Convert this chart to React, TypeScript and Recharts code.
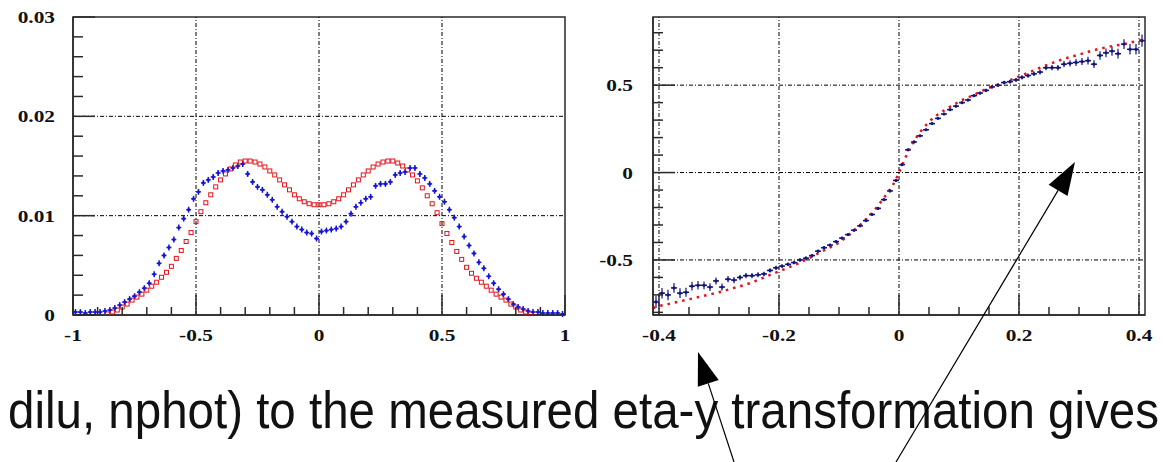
import React from 'react';
import {
  ComposedChart,
  Scatter,
  Line,
  XAxis,
  YAxis,
  ErrorBar,
  ReferenceLine,
  ReferenceArea,
} from 'recharts';

// ---- left panel: eta distribution (100 bins over [-1, 1]) ----
const ETA_BIN_LO = -1;
const ETA_BIN_WIDTH = 0.02;
const etaMeasured = [
  0.0003, 0.0003, 0.0002, 0.0003, 0.0003, 0.0003, 0.0004, 0.0005, 0.0007, 0.001,
  0.0013, 0.0016, 0.0019, 0.0023, 0.0027, 0.0032, 0.0041, 0.0052, 0.006, 0.0068,
  0.0076, 0.0088, 0.0097, 0.0106, 0.0117, 0.0124, 0.0133, 0.0136, 0.0139, 0.0143,
  0.0145, 0.0146, 0.0148, 0.015, 0.0152, 0.0142, 0.0134, 0.0129, 0.0126, 0.0121,
  0.0116, 0.0109, 0.0104, 0.0099, 0.0094, 0.0089, 0.0086, 0.0083, 0.0082, 0.0077,
  0.0084, 0.0085, 0.0086, 0.0087, 0.0089, 0.0094, 0.0102, 0.0109, 0.0113, 0.0117,
  0.0119, 0.013, 0.0132, 0.0132, 0.0134, 0.0141, 0.0143, 0.0144, 0.0148, 0.0148,
  0.0142, 0.0138, 0.0132, 0.0125, 0.0119, 0.0114, 0.0106, 0.0098, 0.0089, 0.0079,
  0.007, 0.0062, 0.0053, 0.0047, 0.0039, 0.0032, 0.0026, 0.0021, 0.0016, 0.0011,
  0.0008, 0.0006, 0.0004, 0.0003, 0.0003, 0.0002, 0.0002, 0.0002, 0.0002, 0.0001,
];
const ETA_MEASURED_ERR_Y = 0.0003;

// fitted model, sampled every 0.02 from -0.86 to 0.86
const ETA_FIT_LO = -0.86;
const ETA_FIT_STEP = 0.02;
const etaFit = [
  0.0001, 0.0003, 0.0005, 0.0008, 0.0011, 0.0015, 0.0018, 0.0021, 0.0025, 0.0029,
  0.0033, 0.0038, 0.0043, 0.0049, 0.0057, 0.0065, 0.0074, 0.0083, 0.0094, 0.0104,
  0.0113, 0.0121, 0.0129, 0.0136, 0.0142, 0.0147, 0.0151, 0.0154, 0.0155, 0.0155,
  0.0154, 0.0152, 0.0149, 0.0145, 0.0141, 0.0136, 0.0131, 0.0126, 0.0121, 0.0117,
  0.0114, 0.0112, 0.0111,
  0.0111,
  0.0111, 0.0112, 0.0114, 0.0117, 0.0121, 0.0126, 0.0131, 0.0136, 0.0141, 0.0145,
  0.0149, 0.0152, 0.0154, 0.0155, 0.0155, 0.0153, 0.015, 0.0146, 0.0141, 0.0135,
  0.0128, 0.012, 0.0112, 0.0103, 0.0092, 0.0082, 0.0073, 0.0064, 0.0056, 0.0048,
  0.0042, 0.0037, 0.0033, 0.0029, 0.0025, 0.0021, 0.0018, 0.0015, 0.0011, 0.0008,
  0.0005, 0.0003, 0.0001,
];

const leftXTicks = [-1, -0.9, -0.8, -0.7, -0.6, -0.5, -0.4, -0.3, -0.2, -0.1, 0, 0.1, 0.2, 0.3, 0.4, 0.5, 0.6, 0.7, 0.8, 0.9, 1];
const leftXLabels = ['-1', '-0.5', '0', '0.5', '1'];
const leftYTicks = [0, 0.002, 0.004, 0.006, 0.008, 0.01, 0.012, 0.014, 0.016, 0.018, 0.02, 0.022, 0.024, 0.026, 0.028, 0.03];
const leftYLabels = ['0', '0.01', '0.02', '0.03'];
const leftGridX = [-0.5, 0, 0.5];
const leftGridY = [0.01, 0.02];

// ---- right panel: eta -> y transformation (82 bins over [-0.41, 0.41]) ----
const TRANSFORM_BIN_LO = -0.41;
const TRANSFORM_BIN_WIDTH = 0.01;
const transformMeasured = [
  -0.74, -0.69, -0.7, -0.66, -0.69, -0.685, -0.65, -0.645, -0.645, -0.655,
  -0.62, -0.655, -0.61, -0.615, -0.6, -0.59, -0.59, -0.585, -0.58, -0.56,
  -0.545, -0.535, -0.525, -0.515, -0.5, -0.49, -0.475, -0.45, -0.43, -0.415,
  -0.395, -0.375, -0.355, -0.33, -0.305, -0.275, -0.24, -0.205, -0.155, -0.105,
  -0.045,
  0.045, 0.13, 0.175, 0.21, 0.245, 0.28, 0.31, 0.335, 0.36, 0.38,
  0.4, 0.415, 0.44, 0.455, 0.47, 0.49, 0.5, 0.515, 0.52, 0.53,
  0.545, 0.555, 0.565, 0.575, 0.6, 0.6, 0.6, 0.62, 0.625, 0.63,
  0.635, 0.64, 0.62, 0.67, 0.685, 0.695, 0.68, 0.735, 0.705, 0.705,
  0.755,
];
const transformErrY = [
  0.035, 0.03, 0.03, 0.028, 0.028, 0.026, 0.025, 0.024, 0.022, 0.022, 0.02,
  0.02, 0.018, 0.018, 0.016, 0.015, 0.015, 0.014, 0.013, 0.012, 0.012,
  0.011, 0.01, 0.01, 0.01, 0.009, 0.009, 0.008, 0.008, 0.008, 0.008,
  0.007, 0.007, 0.007, 0.007, 0.007, 0.007, 0.007, 0.007, 0.007, 0.007,
  0.007, 0.007, 0.007, 0.007, 0.007, 0.007, 0.007, 0.007, 0.007, 0.007,
  0.008, 0.008, 0.008, 0.008, 0.009, 0.009, 0.01, 0.01, 0.01, 0.011,
  0.012, 0.012, 0.013, 0.014, 0.015, 0.015, 0.016, 0.018, 0.018, 0.02,
  0.02, 0.022, 0.022, 0.024, 0.025, 0.026, 0.028, 0.028, 0.03, 0.03, 0.035,
];

// fitted transformation curve
const transformFitX = [
  -0.41, -0.4, -0.375, -0.35, -0.325, -0.3, -0.275, -0.25, -0.225, -0.2,
  -0.175, -0.15, -0.125, -0.1, -0.075, -0.05, -0.035, -0.02, -0.01, 0,
  0.01, 0.02, 0.035, 0.05, 0.075, 0.1, 0.125, 0.15, 0.175, 0.2,
  0.225, 0.25, 0.275, 0.3, 0.325, 0.35, 0.375, 0.4, 0.41,
];
const transformFitY = [
  -0.775, -0.765, -0.745, -0.725, -0.705, -0.685, -0.66, -0.635, -0.6, -0.565,
  -0.53, -0.49, -0.445, -0.4, -0.33, -0.25, -0.19, -0.12, -0.07, 0,
  0.08, 0.15, 0.23, 0.29, 0.355, 0.405, 0.445, 0.485, 0.515, 0.55,
  0.585, 0.62, 0.65, 0.675, 0.7, 0.72, 0.735, 0.755, 0.76,
];

const rightXTicks = [-0.4, -0.35, -0.3, -0.25, -0.2, -0.15, -0.1, -0.05, 0, 0.05, 0.1, 0.15, 0.2, 0.25, 0.3, 0.35, 0.4];
const rightXLabels = ['-0.4', '-0.2', '0', '0.2', '0.4'];
const rightYTicks = [-0.8, -0.7, -0.6, -0.5, -0.4, -0.3, -0.2, -0.1, 0, 0.1, 0.2, 0.3, 0.4, 0.5, 0.6, 0.7, 0.8];
const rightYLabels = ['-0.5', '0', '0.5'];
const rightGridX = [-0.4, -0.2, 0, 0.2, 0.4];
const rightGridY = [-0.5, 0, 0.5];

const caption = 'dilu, nphot) to the measured eta-y transformation gives';

const RED = '#e3121b';
const BLUE = '#1616d8';
const NAVY = '#14147e';
const FRAME = '#2a2a2a';
const AXIS_FONT = '"Liberation Serif", "DejaVu Serif", serif';
const GRID_DASH = '4 2 1 2';

const etaMeasuredData = etaMeasured.map((y, i) => ({
  x: ETA_BIN_LO + (i + 0.5) * ETA_BIN_WIDTH,
  y,
  ex: ETA_BIN_WIDTH / 2,
  ey: ETA_MEASURED_ERR_Y,
}));
const etaFitData = etaFit.map((y, i) => ({ x: ETA_FIT_LO + i * ETA_FIT_STEP, y }));
const transformMeasuredData = transformMeasured.map((y, i) => ({
  x: TRANSFORM_BIN_LO + (i + 0.5) * TRANSFORM_BIN_WIDTH,
  y,
  ex: TRANSFORM_BIN_WIDTH / 2,
  ey: transformErrY[i],
}));
const transformFitData = transformFitX.map((x, i) => ({ x, y: transformFitY[i] }));

const findLabel = (labels: string[], v: number) =>
  labels.find(l => Math.abs(parseFloat(l) - v) < 1e-6);

// ROOT-style ticks: drawn inwards, longer on labelled values
const xTick = (labels: string[]) => (props: any) => {
  const { x, y, payload } = props;
  const label = findLabel(labels, payload.value);
  const len = label !== undefined ? 20 : 8;
  return (
    <g>
      <line x1={x} y1={y} x2={x} y2={y - len} stroke={FRAME} strokeWidth={1.5} />
      {label !== undefined && (
        <text
          transform={`translate(${x},${y + 26}) scale(1.22,1)`}
          textAnchor="middle"
          fontFamily={AXIS_FONT}
          fontWeight="bold"
          fontSize={17.5}
          fill="#111"
        >
          {label}
        </text>
      )}
    </g>
  );
};

const yTick = (labels: string[], gap: number) => (props: any) => {
  const { x, y, payload } = props;
  const label = findLabel(labels, payload.value);
  const len = label !== undefined ? 22 : 10;
  return (
    <g>
      <line x1={x} y1={y} x2={x + len} y2={y} stroke={FRAME} strokeWidth={1.5} />
      {label !== undefined && (
        <text
          transform={`translate(${x - gap},${y + 6}) scale(1.22,1)`}
          textAnchor="end"
          fontFamily={AXIS_FONT}
          fontWeight="bold"
          fontSize={17.5}
          fill="#111"
        >
          {label}
        </text>
      )}
    </g>
  );
};

const openSquare = (props: any) => (
  <rect x={props.cx - 2} y={props.cy - 2} width={4} height={4} fill="none" stroke={RED} strokeWidth={1} />
);
const dot = (color: string) => (props: any) => (
  <circle cx={props.cx} cy={props.cy} r={1.6} fill={color} />
);

const EtaPanel = () => (
  <ComposedChart width={600} height={350} margin={{ top: 17, right: 35, bottom: 0, left: 0 }}>
    <XAxis
      type="number"
      dataKey="x"
      domain={[-1, 1]}
      allowDataOverflow
      ticks={leftXTicks}
      interval={0}
      tickSize={0}
      tickMargin={0}
      height={35}
      stroke={FRAME}
      strokeWidth={1.5}
      tick={xTick(leftXLabels)}
    />
    <YAxis
      type="number"
      domain={[0, 0.03]}
      allowDataOverflow
      ticks={leftYTicks}
      interval={0}
      tickSize={0}
      tickMargin={0}
      width={73}
      stroke={FRAME}
      strokeWidth={1.5}
      tick={yTick(leftYLabels, 18)}
    />
    <ReferenceArea x1={-1} x2={1} y1={0} y2={0.03} fill="none" stroke={FRAME} strokeWidth={1.5} />
    {leftGridX.map(v => (
      <ReferenceLine key={`gx${v}`} x={v} stroke="#000" strokeDasharray={GRID_DASH} />
    ))}
    {leftGridY.map(v => (
      <ReferenceLine key={`gy${v}`} y={v} stroke="#000" strokeDasharray={GRID_DASH} />
    ))}
    <Scatter data={etaFitData} dataKey="y" shape={openSquare} isAnimationActive={false} />
    <Scatter data={etaMeasuredData} dataKey="y" shape={dot(BLUE)} isAnimationActive={false}>
      <ErrorBar dataKey="ex" direction="x" width={0} stroke={BLUE} strokeWidth={1.5} />
      <ErrorBar dataKey="ey" direction="y" width={0} stroke={BLUE} strokeWidth={1.5} />
    </Scatter>
  </ComposedChart>
);

const TransformPanel = () => (
  <ComposedChart width={585} height={350} margin={{ top: 17, right: 20, bottom: 0, left: 0 }}>
    <XAxis
      type="number"
      dataKey="x"
      domain={[-0.41, 0.41]}
      allowDataOverflow
      ticks={rightXTicks}
      interval={0}
      tickSize={0}
      tickMargin={0}
      height={35}
      stroke={FRAME}
      strokeWidth={1.5}
      tick={xTick(rightXLabels)}
    />
    <YAxis
      type="number"
      domain={[-0.815, 0.89]}
      allowDataOverflow
      ticks={rightYTicks}
      interval={0}
      tickSize={0}
      tickMargin={0}
      width={73}
      stroke={FRAME}
      strokeWidth={1.5}
      tick={yTick(rightYLabels, 20)}
    />
    <ReferenceArea x1={-0.41} x2={0.41} y1={-0.815} y2={0.89} fill="none" stroke={FRAME} strokeWidth={1.5} />
    {rightGridX.map(v => (
      <ReferenceLine key={`gx${v}`} x={v} stroke="#000" strokeDasharray={GRID_DASH} />
    ))}
    {rightGridY.map(v => (
      <ReferenceLine key={`gy${v}`} y={v} stroke="#000" strokeDasharray={GRID_DASH} />
    ))}
    <Scatter data={transformMeasuredData} dataKey="y" shape={dot(NAVY)} isAnimationActive={false}>
      <ErrorBar dataKey="ex" direction="x" width={0} stroke={NAVY} strokeWidth={1.5} />
      <ErrorBar dataKey="ey" direction="y" width={0} stroke={NAVY} strokeWidth={1.2} />
    </Scatter>
    <Line
      data={transformFitData}
      dataKey="y"
      type="monotone"
      stroke={RED}
      strokeWidth={2.5}
      strokeDasharray="2.5 5"
      dot={false}
      activeDot={false}
      isAnimationActive={false}
    />
  </ComposedChart>
);

// arrow with a filled head at (x2, y2)
const Arrow = ({ x1, y1, x2, y2 }: { x1: number; y1: number; x2: number; y2: number }) => {
  const len = Math.hypot(x2 - x1, y2 - y1);
  const ux = (x2 - x1) / len;
  const uy = (y2 - y1) / len;
  const head = 33;
  const half = 11;
  const bx = x2 - ux * head;
  const by = y2 - uy * head;
  const pts = [
    [x2, y2],
    [bx - uy * half, by + ux * half],
    [bx + uy * half, by - ux * half],
  ]
    .map(p => p.join(','))
    .join(' ');
  return (
    <g>
      <line x1={x1} y1={y1} x2={bx} y2={by} stroke="#000" strokeWidth={1.2} />
      <polygon points={pts} fill="#000" />
    </g>
  );
};

export default function App() {
  return (
    <div
      style={{
        position: 'absolute',
        left: 0,
        top: 0,
        width: 1165,
        height: 462,
        overflow: 'hidden',
        background: '#fff',
      }}
    >
      <div style={{ position: 'absolute', left: 0, top: 0 }}>
        <EtaPanel />
      </div>
      <div style={{ position: 'absolute', left: 580, top: 0 }}>
        <TransformPanel />
      </div>
      <svg
        width={1165}
        height={462}
        style={{ position: 'absolute', left: 0, top: 0, pointerEvents: 'none' }}
      >
        <text
          transform="translate(8,428) scale(1,1.1)"
          fontSize={47.5}
          fontFamily='"Liberation Sans", Arial, sans-serif'
          fill="#111"
        >
          {caption}
        </text>
        <Arrow x1={734} y1={462} x2={698} y2={352} />
        <Arrow x1={896} y1={462} x2={1075} y2={162} />
      </svg>
    </div>
  );
}
